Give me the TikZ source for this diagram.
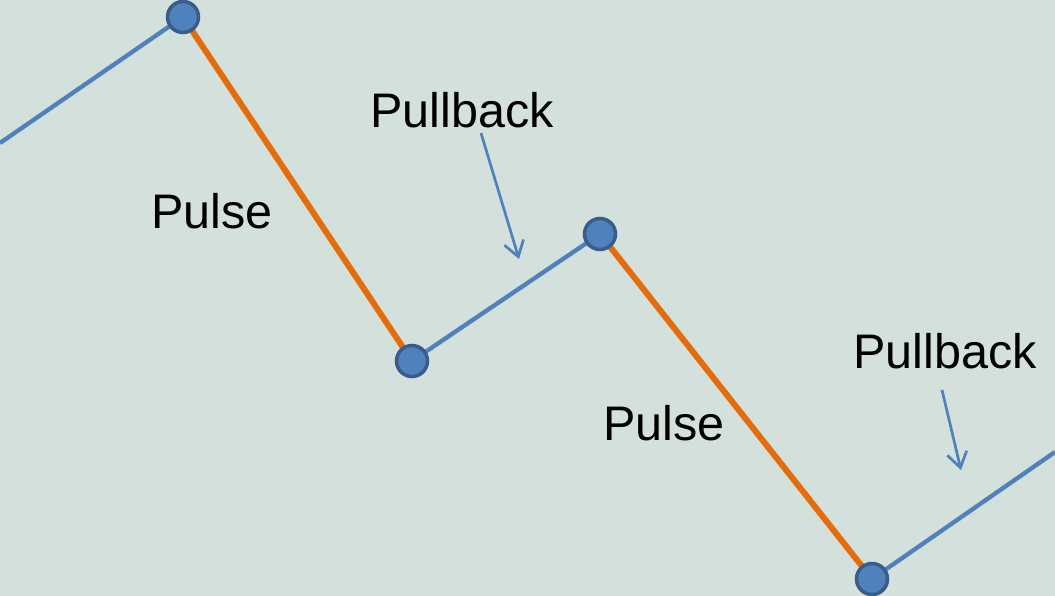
\documentclass[tikz,border=0pt]{standalone}
\usepackage{fontspec}
\setmainfont{Liberation Sans}
\usetikzlibrary{arrows.meta}
\pgfdeclarelayer{background}
\pgfsetlayers{background,main}
\definecolor{bg}{HTML}{D3E0DB}
\definecolor{lblue}{HTML}{4F81BD}
\definecolor{dblue}{HTML}{385D8A}
\definecolor{orng}{HTML}{E46C0A}
\begin{document}
\begin{tikzpicture}[x=1pt,y=-1pt,
  pt/.style={circle,fill=lblue,draw=dblue,line width=3.5pt,minimum size=31pt,inner sep=0pt},
  upseg/.style={lblue,line width=4.3pt},
  downseg/.style={orng,line width=6pt},
  lbl/.style={font=\fontsize{48.5}{58}\selectfont,inner sep=0pt,anchor=base},
  pointer/.style={lblue,line width=2.7pt,-{Straight Barb[length=15pt,width=20pt,line width=2.7pt]}}]
\useasboundingbox (0,0) rectangle (1055,596);
\coordinate (s) at (0,143);
\coordinate (e) at (1055,452);
\node[pt] (a) at (183,17) {};
\node[pt] (b) at (412,361) {};
\node[pt] (c) at (600,234) {};
\node[pt] (d) at (872,579) {};
\begin{pgfonlayer}{background}
\fill[bg] (0,0) rectangle (1055,596);
\draw[upseg] (s) -- (a.center);
\draw[downseg] (a.center) -- (b.center);
\draw[upseg] (b.center) -- (c.center);
\draw[downseg] (c.center) -- (d.center);
\draw[upseg] (d.center) -- (e);
\end{pgfonlayer}
\node[lbl] (p1) at (212,229) {Pulse};
\node[lbl] (p2) at (664,440) {Pulse};
\node[lbl] (q1) at (462,128) {Pullback};
\node[lbl] (q2) at (945,368) {Pullback};
\coordinate (q1s) at (481,133);
\coordinate (q1e) at (519,259);
\coordinate (q2s) at (942,390);
\coordinate (q2e) at (961,470);
\draw[pointer] (q1s) -- (q1e);
\draw[pointer] (q2s) -- (q2e);
\end{tikzpicture}
\end{document}
